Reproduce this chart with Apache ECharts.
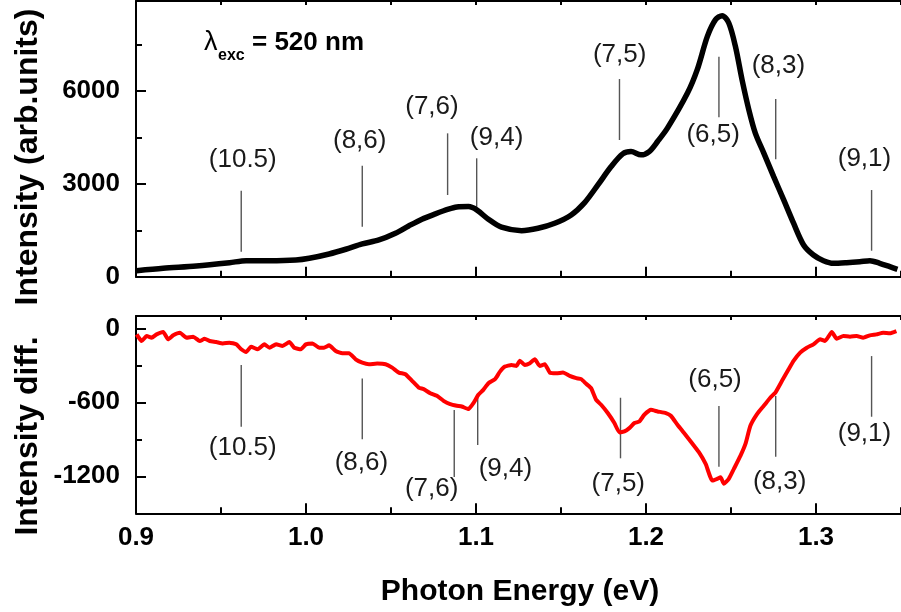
<!DOCTYPE html>
<html><head><meta charset="utf-8">
<script src="https://cdn.jsdelivr.net/npm/echarts@6/dist/echarts.min.js"></script>
<style>html,body{margin:0;padding:0;background:#fff}#c{width:901px;height:612px}</style>
</head><body><div id="c"></div>
<script>
// ---- Data (photon energy in eV) ----
const energyTop = [0.9004,0.9160,0.9355,0.9550,0.9648,0.9785,0.9941,1.0019,1.0136,1.0234,1.0331,1.0429,1.0526,1.0604,1.0682,1.0761,1.0838,1.0887,1.0956,1.1004,1.1073,1.1150,1.1268,1.1365,1.1463,1.1560,1.1639,1.1717,1.1795,1.1863,1.1912,1.1970,1.2019,1.2068,1.2126,1.2244,1.2302,1.2361,1.2409,1.2448,1.2487,1.2526,1.2565,1.2605,1.2643,1.2693,1.2751,1.2810,1.2868,1.2927,1.2985,1.3044,1.3102,1.3180,1.3258,1.3317,1.3375,1.3434,1.3479];
const intensityTop = [194,272,346,453,518,518,540,595,735,887,1058,1188,1404,1640,1860,2030,2180,2250,2265,2158,1857,1599,1488,1566,1728,1997,2395,2967,3560,3971,4045,3938,4045,4369,4800,5935,6700,7766,8307,8436,8200,7443,6365,5394,4640,3993,3236,2482,1728,1026,702,518,434,453,485,518,434,324,239];

const energyDiff = [0.9004,0.9033,0.9063,0.9092,0.9121,0.9160,0.9189,0.9219,0.9258,0.9297,0.9336,0.9375,0.9404,0.9433,0.9472,0.9511,0.9550,0.9590,0.9619,0.9648,0.9677,0.9716,0.9755,0.9785,0.9824,0.9862,0.9902,0.9931,0.9970,0.9999,1.0038,1.0077,1.0106,1.0136,1.0175,1.0214,1.0253,1.0292,1.0331,1.0370,1.0419,1.0468,1.0507,1.0546,1.0585,1.0624,1.0663,1.0692,1.0731,1.0770,1.0809,1.0848,1.0887,1.0916,1.0956,1.0985,1.1014,1.1043,1.1073,1.1112,1.1141,1.1170,1.1209,1.1238,1.1258,1.1287,1.1317,1.1346,1.1375,1.1405,1.1434,1.1473,1.1512,1.1551,1.1590,1.1619,1.1648,1.1677,1.1707,1.1736,1.1775,1.1814,1.1844,1.1873,1.1902,1.1932,1.1961,1.1990,1.2029,1.2068,1.2117,1.2146,1.2185,1.2224,1.2263,1.2312,1.2351,1.2390,1.2419,1.2439,1.2458,1.2487,1.2517,1.2556,1.2585,1.2614,1.2653,1.2693,1.2732,1.2761,1.2800,1.2839,1.2868,1.2907,1.2946,1.2985,1.3024,1.3053,1.3093,1.3122,1.3161,1.3200,1.3239,1.3278,1.3317,1.3356,1.3395,1.3434,1.3473];
const intensityDiff = [-49,-103,-62,-76,-49,-30,-89,-57,-36,-76,-68,-103,-84,-103,-111,-122,-116,-130,-170,-192,-149,-170,-130,-157,-130,-143,-111,-157,-170,-130,-122,-157,-157,-138,-184,-202,-202,-251,-278,-291,-286,-291,-319,-359,-372,-426,-480,-493,-526,-547,-588,-615,-628,-634,-655,-606,-539,-499,-445,-412,-351,-310,-297,-305,-262,-297,-283,-251,-305,-291,-359,-364,-359,-386,-404,-412,-450,-485,-580,-620,-687,-768,-844,-836,-809,-768,-755,-701,-661,-674,-687,-709,-782,-849,-917,-1006,-1100,-1235,-1221,-1208,-1261,-1221,-1140,-1033,-938,-790,-695,-628,-561,-521,-426,-332,-264,-197,-157,-130,-89,-103,-30,-84,-62,-68,-62,-76,-57,-49,-36,-40,-22];

// tick values
const xMajorTicks = [0.9, 1.0, 1.1, 1.2, 1.3];
const xMinorTicks = [0.95, 1.05, 1.15, 1.25, 1.35];
const yTopMajorTicks = [0, 3000, 6000];
const yTopMinorTicks = [1500, 4500, 7500];
const yDiffMajorTicks = [0, -600, -1200];
const yDiffMinorTicks = [-300, -900];

// chirality annotations
const annLabels = ['(10.5)','(8,6)','(7,6)','(9,4)','(7,5)','(6,5)','(8,3)','(9,1)'];
const annTopLineE   = [0.9619,1.0331,1.0833,1.1004,1.1844,1.2429,1.2763,1.3327];
const annTopLineLo  = [808,1616,2640,2210,4417,5150,3793,840];
const annTopLineHi  = [2779,3586,4633,3826,6388,7108,5741,2801];
const annTopLabelE  = [0.9628,1.0316,1.0741,1.1121,1.1845,1.2395,1.2779,1.3285];
const annTopLabelV  = [3770,4384,5483,4498,7163,4578,6814,3813];
const annDiffLineE  = [0.9619,1.0331,1.0872,1.1010,1.1850,1.2429,1.2763,1.3327];
const annDiffLineLo = [-798,-900,-1206,-946,-1054,-1122,-1041,-717];
const annDiffLineHi = [-298,-406,-663,-541,-563,-630,-549,-225];
const annDiffLabelE = [0.9628,1.0326,1.0739,1.1173,1.1837,1.2406,1.2786,1.3285];
const annDiffLabelV = [-967,-1088,-1303,-1141,-1263,-419,-1244,-852];

// ---- Build option ----
const FONT = '"Liberation Sans", Arial, sans-serif';
const pairs = (xs, ys) => xs.map((x, i) => [x, ys[i]]);
const annData = (le, lo, hi, lbe, lbv) => le.map((e, i) => [e, lo[i], hi[i], lbe[i], lbv[i]]);

function annRender(params, api) {
  const a = api.coord([api.value(0), api.value(1)]);
  const b = api.coord([api.value(0), api.value(2)]);
  const t = api.coord([api.value(3), api.value(4)]);
  return {
    type: 'group',
    children: [
      { type: 'line', shape: { x1: a[0], y1: a[1], x2: b[0], y2: b[1] },
        style: { stroke: '#555', lineWidth: 1.4 } },
      { type: 'text', x: t[0], y: t[1],
        style: { text: annLabels[params.dataIndex], fill: '#1a1a1a', fontSize: 26,
                 fontFamily: FONT, align: 'center', verticalAlign: 'middle' } }
    ]
  };
}

const lineAx = { show: true, onZero: false, lineStyle: { color: '#000', width: 2 } };
const noLine = { show: false, onZero: false };
function xAx(grid, pos, ticks, len, line, labels) {
  return {
    type: 'value', gridIndex: grid, min: 0.9, max: 1.35, position: pos,
    axisLine: line ? lineAx : noLine,
    axisTick: { show: true, inside: true, length: len, customValues: ticks,
                lineStyle: { color: '#000', width: 2 } },
    axisLabel: labels ? { show: true, customValues: ticks, margin: 12,
                          formatter: v => Number(v).toFixed(1), color: '#000',
                          fontSize: 26, fontWeight: 'bold', fontFamily: FONT }
                      : { show: false },
    splitLine: { show: false }
  };
}
function yAx(grid, min, max, ticks, len, line, labels) {
  return {
    type: 'value', gridIndex: grid, min: min, max: max, position: 'left',
    axisLine: line ? lineAx : noLine,
    axisTick: { show: true, inside: true, length: len, customValues: ticks,
                lineStyle: { color: '#000', width: 2 } },
    axisLabel: labels ? { show: true, customValues: ticks, margin: 16, color: '#000',
                          formatter: v => String(Math.round(Number(v))),
                          fontSize: 26, fontWeight: 'bold', fontFamily: FONT }
                      : { show: false },
    splitLine: { show: false }
  };
}

const option = {
  animation: false,
  backgroundColor: '#fff',
  grid: [
    { left: 136, top: 1, width: 768.6, height: 275.7 },
    { left: 136, top: 316, width: 768.6, height: 197.3 }
  ],
  xAxis: [
    xAx(0, 'bottom', xMajorTicks, 10, true, false),
    xAx(1, 'bottom', xMajorTicks, 10, true, true),
    xAx(0, 'bottom', xMinorTicks, 6, false, false),
    xAx(1, 'bottom', xMinorTicks, 6, false, false),
    xAx(0, 'top', xMajorTicks.concat(xMinorTicks), 4, true, false),
    xAx(1, 'top', xMajorTicks.concat(xMinorTicks), 4, true, false)
  ],
  yAxis: [
    yAx(0, 0, 8910, yTopMajorTicks, 10, true, true),
    yAx(1, -1500, 100, yDiffMajorTicks, 10, true, true),
    yAx(0, 0, 8910, yTopMinorTicks, 6, false, false),
    yAx(1, -1500, 100, yDiffMinorTicks, 6, false, false)
  ],
  series: [
    { type: 'custom', xAxisIndex: 0, yAxisIndex: 0, renderItem: annRender, clip: false,
      data: annData(annTopLineE, annTopLineLo, annTopLineHi, annTopLabelE, annTopLabelV), z: 1 },
    { type: 'custom', xAxisIndex: 1, yAxisIndex: 1, renderItem: annRender, clip: false,
      data: annData(annDiffLineE, annDiffLineLo, annDiffLineHi, annDiffLabelE, annDiffLabelV), z: 1 },
    { type: 'line', xAxisIndex: 0, yAxisIndex: 0, data: pairs(energyTop, intensityTop),
      showSymbol: false, smooth: 0.3, lineStyle: { color: '#000', width: 5.5 }, z: 3 },
    { type: 'line', xAxisIndex: 1, yAxisIndex: 1, data: pairs(energyDiff, intensityDiff),
      showSymbol: false, smooth: 0.15, lineStyle: { color: '#ff0000', width: 4 }, z: 3 }
  ],
  graphic: [
    { type: 'text', x: 204, y: 43, style: { text: 'λ', fontSize: 27, fontFamily: FONT,
      fill: '#000', align: 'left', verticalAlign: 'middle' } },
    { type: 'text', x: 218, y: 56, style: { text: 'exc', fontSize: 16, fontWeight: 'bold',
      fontFamily: FONT, fill: '#000', align: 'left', verticalAlign: 'middle' } },
    { type: 'text', x: 252, y: 43, style: { text: '= 520 nm', fontSize: 26, fontWeight: 'bold',
      fontFamily: FONT, fill: '#000', align: 'left', verticalAlign: 'middle' } },
    { type: 'text', x: 28, y: 157, rotation: Math.PI / 2,
      style: { text: 'Intensity (arb.units)', fontSize: 32, fontWeight: 'bold', fontFamily: FONT,
               fill: '#000', align: 'center', verticalAlign: 'middle' } },
    { type: 'text', x: 28, y: 436, rotation: Math.PI / 2,
      style: { text: 'Intensity diff.', fontSize: 32, fontWeight: 'bold', fontFamily: FONT,
               fill: '#000', align: 'center', verticalAlign: 'middle' } },
    { type: 'text', x: 520, y: 592,
      style: { text: 'Photon Energy (eV)', fontSize: 30, fontWeight: 'bold', fontFamily: FONT,
               fill: '#000', align: 'center', verticalAlign: 'middle' } }
  ]
};
const chart = echarts.init(document.getElementById('c'), null, { renderer: 'canvas' });
chart.setOption(option);
</script>
</body></html>
